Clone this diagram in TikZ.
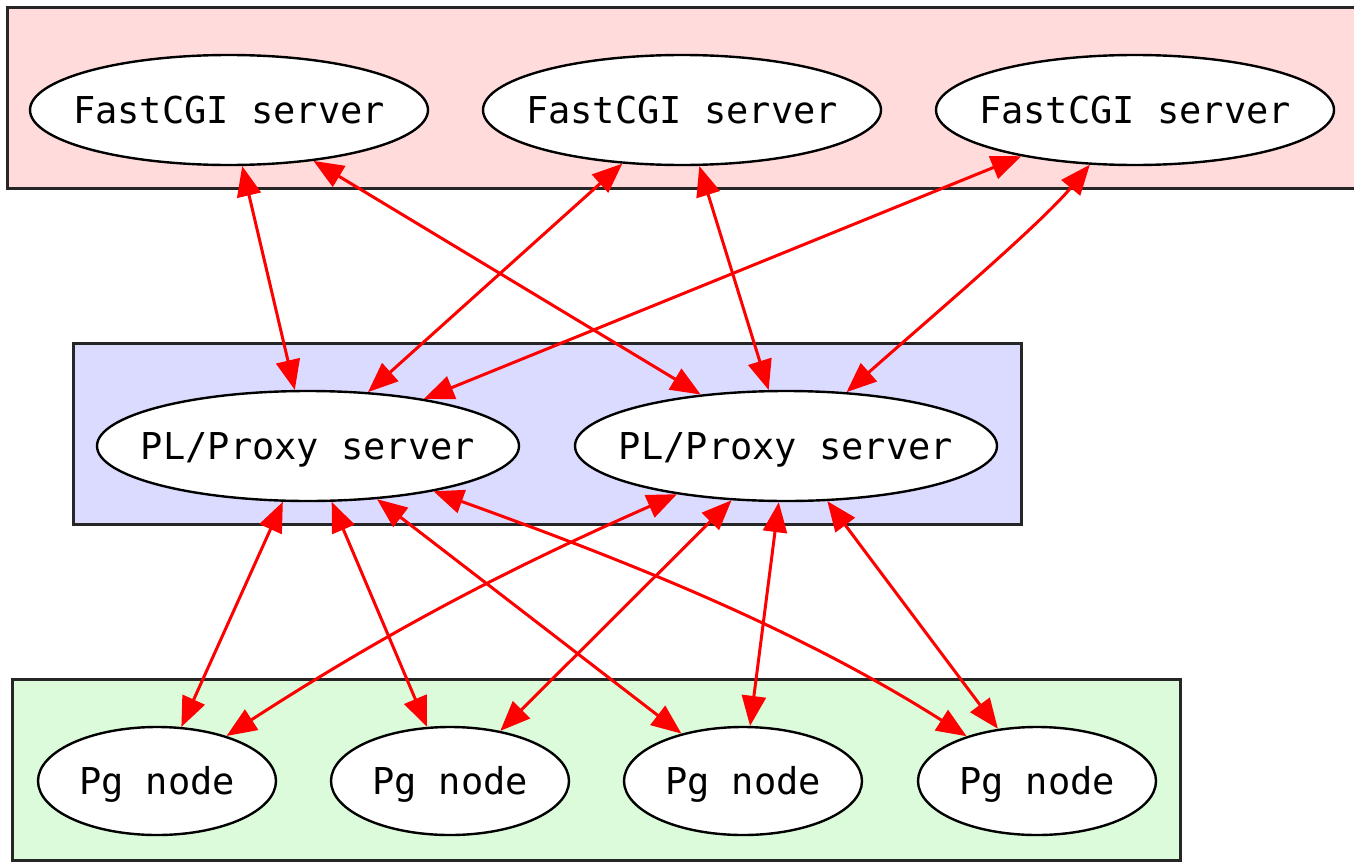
\documentclass[tikz,border=0pt]{standalone}
\usepackage{fontspec}
\setmonofont{DejaVu Sans Mono}
\usetikzlibrary{shapes.geometric,arrows.meta}
\definecolor{pinkc}{RGB}{255,219,219}
\definecolor{lavc}{RGB}{219,219,255}
\definecolor{greenc}{RGB}{219,251,219}
\newcommand\mylbl[1]{\makebox[0pt]{\raisebox{-13pt}[0pt][0pt]{\ttfamily\fontsize{37}{44}\selectfont #1}}}
\begin{document}
\begin{tikzpicture}[x=1pt,y=-1pt,
  srv/.style={ellipse,draw=black,line width=2.4pt,fill=white,inner sep=0pt},
  fcgi/.style={srv,minimum width=398pt,minimum height=110pt},
  plp/.style={srv,minimum width=422pt,minimum height=110pt},
  pgn/.style={srv,minimum width=238pt,minimum height=108pt},
  cl/.style={draw=black!85,line width=3pt},
  link/.style={draw=red,line width=3pt,{Triangle[length=30pt,width=24pt]}-{Triangle[length=30pt,width=24pt]}}
]
\useasboundingbox (0,0) rectangle (1354,862);
\clip (0,0) rectangle (1354,862);
\fill[white] (0,0) rectangle (1354,862);
% clusters
\draw[cl,fill=pinkc] (7,7) rectangle (1380,188);
\draw[cl,fill=lavc] (73,343) rectangle (1021,524);
\draw[cl,fill=greenc] (12,679) rectangle (1180,860);
% nodes
\node[fcgi] (f1) at (229,110) {\mylbl{FastCGI server}};
\node[fcgi] (f2) at (682,110) {\mylbl{FastCGI server}};
\node[fcgi] (f3) at (1135,110) {\mylbl{FastCGI server}};
\node[plp] (p1) at (308,446) {\mylbl{PL/Proxy server}};
\node[plp] (p2) at (786,446) {\mylbl{PL/Proxy server}};
\node[pgn] (g1) at (157,781) {\mylbl{Pg node}};
\node[pgn] (g2) at (450,781) {\mylbl{Pg node}};
\node[pgn] (g3) at (743,781) {\mylbl{Pg node}};
\node[pgn] (g4) at (1037,781) {\mylbl{Pg node}};
% links top
\draw[link] (f1) -- (p1);
\draw[link] (f1) -- (p2);
\draw[link] (f2) -- (p1);
\draw[link] (f2) -- (p2);
\draw[link] (f3) -- (p1);
\draw[link] (f3) .. controls (1040,225) and (922,325) .. (p2);
% links bottom
\draw[link] (p1) -- (g1);
\draw[link] (p1) -- (g2);
\draw[link] (p1) -- (g3);
\draw[link] (p1) .. controls (621,559) and (795,627) .. (g4);
\draw[link] (p2) .. controls (508,569) and (390,630) .. (g1);
\draw[link] (p2) -- (g2);
\draw[link] (p2) -- (g3);
\draw[link] (p2) -- (g4);
\end{tikzpicture}
\end{document}
